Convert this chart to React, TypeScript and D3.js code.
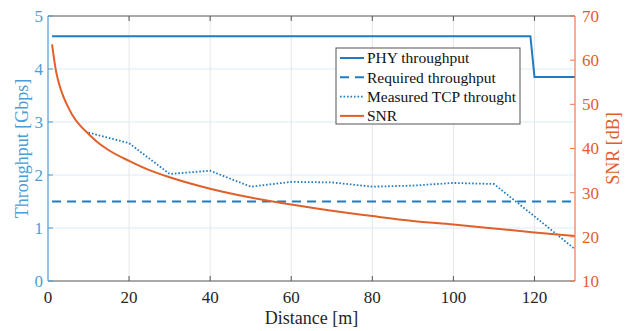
import * as d3 from "d3";

// values
const phyDist = [1, 119, 120, 130];
const phyGbps = [4.62, 4.62, 3.85, 3.85];

const reqDist = [1, 130];
const reqGbps = [1.5, 1.5];

const tcpDist = [10, 20, 30, 40, 50, 60, 70, 80, 90, 100, 110, 120, 130];
const tcpGbps = [2.8, 2.6, 2.02, 2.08, 1.78, 1.87, 1.86, 1.78, 1.8, 1.85, 1.83, 1.22, 0.6];

const snrDist = [1, 2, 3, 4, 5, 6, 8, 10, 12, 15, 20, 25, 30, 40, 50, 60, 70, 80, 90, 100, 110, 120, 130];
const snrDb = [63.6, 57.4, 53.8, 51.3, 49.3, 47.6, 45.1, 43.3, 41.6, 39.6, 37.2, 35.1, 33.5, 30.9, 28.9, 27.3, 25.9, 24.7, 23.6, 22.8, 21.9, 21.0, 20.2];

const xTicks = [0, 20, 40, 60, 80, 100, 120];
const yLeftTicks = [0, 1, 2, 3, 4, 5];
const yRightTicks = [10, 20, 30, 40, 50, 60, 70];

const legendItems = [
  { label: "PHY throughput", kind: "solid" },
  { label: "Required throughput", kind: "dashed" },
  { label: "Measured TCP throught", kind: "dotted" },
  { label: "SNR", kind: "snr" },
];

const W = 633;
const H = 331;
const mg = { top: 16, right: 58, bottom: 50, left: 48 };

const BLUE = "#1f7cc2";
const ORANGE = "#e0602a";
const AXIS_BLUE = "#4a9dd6";
const AXIS_ORANGE = "#ee7a48";
const FONT = "'Liberation Serif', 'Times New Roman', serif";

export default function App() {
  const x = d3.scaleLinear().domain([0, 130]).range([mg.left, W - mg.right]);
  const yL = d3.scaleLinear().domain([0, 5]).range([H - mg.bottom, mg.top]);
  const yR = d3.scaleLinear().domain([10, 70]).range([H - mg.bottom, mg.top]);

  const lineL = d3.line<[number, number]>().x((d) => x(d[0])).y((d) => yL(d[1]));
  const lineR = d3.line<[number, number]>().x((d) => x(d[0])).y((d) => yR(d[1]));

  const zip = (a: number[], b: number[]) => a.map((v, i) => [v, b[i]] as [number, number]);

  const x0 = x(0);
  const x1 = x(130);
  const yTop = yL(5);
  const yBot = yL(0);

  const lg = { x: 336, y: 48, w: 184, h: 76, row: 19.3 };

  return (
    <div style={{ position: "absolute", left: 0, top: 0 }}>
      <svg width={W} height={H} viewBox={`0 0 ${W} ${H}`} style={{ display: "block", background: "#fff" }}>
        <defs>
          <clipPath id="plot">
            <rect x={x0} y={yTop} width={x1 - x0} height={yBot - yTop} />
          </clipPath>
        </defs>

        {/* grid */}
        {xTicks.slice(1).map((t) => (
          <line key={`gx${t}`} x1={x(t)} x2={x(t)} y1={yTop} y2={yBot} stroke="#e3e7ec" strokeWidth={1} />
        ))}
        {yLeftTicks.slice(1, -1).map((t) => (
          <line key={`gy${t}`} x1={x0} x2={x1} y1={yL(t)} y2={yL(t)} stroke="#dcebf7" strokeWidth={1} />
        ))}

        {/* top and bottom box edges */}
        <line x1={x0} x2={x1} y1={yTop} y2={yTop} stroke="#555" strokeWidth={1} />
        <line x1={x0} x2={x1} y1={yBot} y2={yBot} stroke="#555" strokeWidth={1} />
        {xTicks.slice(1).map((t) => (
          <g key={`tx${t}`}>
            <line x1={x(t)} x2={x(t)} y1={yBot} y2={yBot - 5} stroke="#555" />
            <line x1={x(t)} x2={x(t)} y1={yTop} y2={yTop + 5} stroke="#555" />
          </g>
        ))}

        {/* series */}
        <g clipPath="url(#plot)" fill="none">
          <path d={lineL(zip(phyDist, phyGbps)) ?? ""} stroke={BLUE} strokeWidth={2} />
          <path d={lineL(zip(reqDist, reqGbps)) ?? ""} stroke={BLUE} strokeWidth={2} strokeDasharray="9 6" />
          <path d={lineL(zip(tcpDist, tcpGbps)) ?? ""} stroke={BLUE} strokeWidth={1.8} strokeDasharray="1.6 1.9" />
          <path d={d3.line<[number, number]>().x((d) => x(d[0])).y((d) => yR(d[1])).curve(d3.curveMonotoneX)(zip(snrDist, snrDb)) ?? ""} stroke={ORANGE} strokeWidth={2} />
        </g>

        {/* left axis */}
        <line x1={x0} x2={x0} y1={yTop} y2={yBot} stroke={AXIS_BLUE} strokeWidth={1.2} />
        {yLeftTicks.map((t) => (
          <g key={`yl${t}`}>
            <line x1={x0} x2={x0 + 5} y1={yL(t)} y2={yL(t)} stroke={AXIS_BLUE} />
            <text x={x0 - 5} y={yL(t)} dy="0.35em" textAnchor="end" fontFamily={FONT} fontSize={17} fill={AXIS_BLUE}>
              {t}
            </text>
          </g>
        ))}
        <text
          transform={`translate(22, ${(yTop + yBot) / 2}) rotate(-90)`}
          textAnchor="middle"
          dy="0.35em"
          fontFamily={FONT}
          fontSize={18}
          fill={AXIS_BLUE}
        >
          Throughput [Gbps]
        </text>

        {/* right axis */}
        <line x1={x1} x2={x1} y1={yTop} y2={yBot} stroke={AXIS_ORANGE} strokeWidth={1.2} />
        {yRightTicks.map((t) => (
          <g key={`yr${t}`}>
            <line x1={x1} x2={x1 - 5} y1={yR(t)} y2={yR(t)} stroke={AXIS_ORANGE} />
            <text x={x1 + 7} y={yR(t)} dy="0.35em" textAnchor="start" fontFamily={FONT} fontSize={17} fill={ORANGE}>
              {t}
            </text>
          </g>
        ))}
        <text
          transform={`translate(613, ${(yTop + yBot) / 2}) rotate(-90)`}
          textAnchor="middle"
          dy="0.35em"
          fontFamily={FONT}
          fontSize={18}
          fill={ORANGE}
        >
          SNR [dB]
        </text>

        {/* x axis labels */}
        {xTicks.map((t) => (
          <text key={`xl${t}`} x={x(t)} y={303} textAnchor="middle" fontFamily={FONT} fontSize={17} fill="#262626">
            {t}
          </text>
        ))}
        <text x={(x0 + x1) / 2} y={324} textAnchor="middle" fontFamily={FONT} fontSize={18} fill="#262626">
          Distance [m]
        </text>

        {/* legend */}
        <rect x={lg.x} y={lg.y} width={lg.w} height={lg.h} fill="#fff" stroke="#555" strokeWidth={1} />
        {legendItems.map((it, i) => {
          const cy = lg.y + 10 + i * lg.row;
          const stroke = it.kind === "snr" ? ORANGE : BLUE;
          const dash = it.kind === "dashed" ? "9 6" : it.kind === "dotted" ? "1.6 1.9" : undefined;
          return (
            <g key={it.label}>
              <line x1={lg.x + 4} x2={lg.x + 28} y1={cy} y2={cy} stroke={stroke} strokeWidth={it.kind === "dotted" ? 1.6 : 2} strokeDasharray={dash} />
              <text x={lg.x + 31} y={cy} dy="0.35em" fontFamily={FONT} fontSize={15.5} fill="#111">
                {it.label}
              </text>
            </g>
          );
        })}
      </svg>
    </div>
  );
}
